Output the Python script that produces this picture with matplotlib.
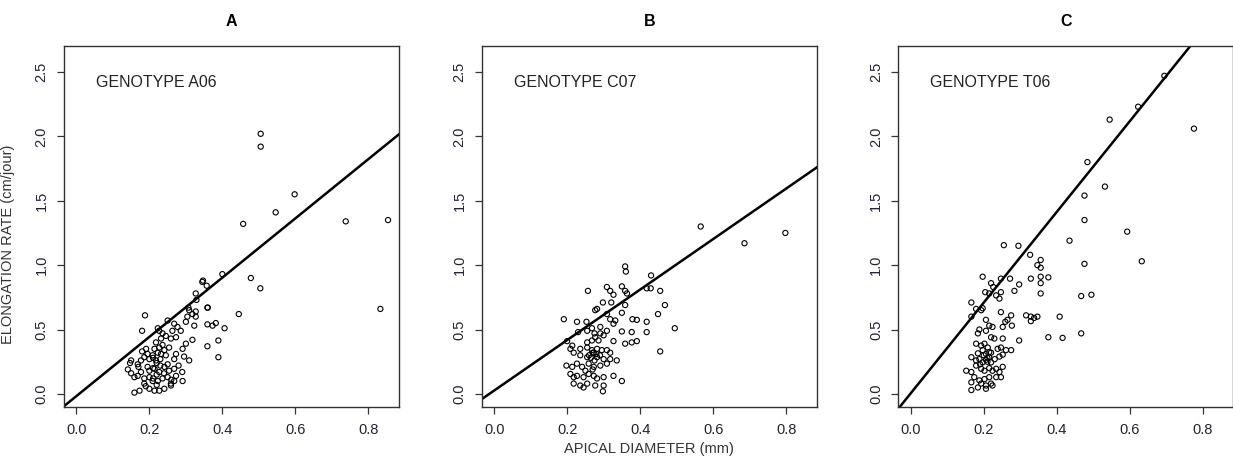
import matplotlib
matplotlib.use("Agg")
import matplotlib.pyplot as plt

plt.rcParams['font.family'] = ['Liberation Sans', 'DejaVu Sans']

panel_titles = ['A', 'B', 'C']
genotypes = ['GENOTYPE A06', 'GENOTYPE C07', 'GENOTYPE T06']
x_ticks = [0.0, 0.2, 0.4, 0.6, 0.8]
y_ticks = [0.0, 0.5, 1.0, 1.5, 2.0, 2.5]

# regression lines (intercept, slope)
intercepts = [-0.017, 0.026, 0.005]
slopes = [2.30, 1.96, 3.52]

# genotype A06
xa = [0.505, 0.505, 0.598, 0.546, 0.457, 0.738, 0.854, 0.833, 0.504, 0.478,
      0.347, 0.357, 0.40, 0.327, 0.329, 0.36, 0.307, 0.345, 0.188, 0.359,
      0.445, 0.309, 0.318, 0.327, 0.304, 0.327, 0.25, 0.30, 0.323, 0.359,
      0.373, 0.382, 0.406, 0.18, 0.268, 0.277, 0.286, 0.263, 0.223, 0.227,
      0.236, 0.245, 0.259, 0.273, 0.232, 0.318, 0.30, 0.359, 0.389, 0.389,
      0.291, 0.273, 0.268, 0.295, 0.309, 0.218, 0.227, 0.236, 0.214, 0.223,
      0.232, 0.241, 0.254, 0.245, 0.209, 0.218, 0.191, 0.195, 0.20, 0.186,
      0.147, 0.168, 0.177, 0.195, 0.141, 0.15, 0.159, 0.168, 0.177, 0.186,
      0.20, 0.214, 0.227, 0.241, 0.254, 0.268, 0.273, 0.25, 0.236, 0.223,
      0.209, 0.20, 0.159, 0.173, 0.20, 0.214, 0.227, 0.241, 0.186, 0.259,
      0.268, 0.291, 0.259, 0.15, 0.18, 0.21, 0.22, 0.23, 0.21, 0.22,
      0.23, 0.24, 0.21, 0.22, 0.25, 0.26, 0.28, 0.29, 0.17, 0.19]
ya = [2.02, 1.92, 1.55, 1.41, 1.32, 1.34, 1.35, 0.66, 0.82, 0.90,
      0.88, 0.84, 0.93, 0.78, 0.73, 0.67, 0.67, 0.87, 0.61, 0.67,
      0.62, 0.65, 0.62, 0.64, 0.60, 0.60, 0.57, 0.56, 0.53, 0.54,
      0.53, 0.55, 0.51, 0.49, 0.545, 0.52, 0.49, 0.49, 0.51, 0.49,
      0.47, 0.45, 0.43, 0.44, 0.43, 0.42, 0.39, 0.37, 0.415, 0.285,
      0.35, 0.31, 0.27, 0.29, 0.26, 0.40, 0.36, 0.38, 0.35, 0.32,
      0.31, 0.34, 0.36, 0.30, 0.30, 0.26, 0.35, 0.31, 0.27, 0.285,
      0.24, 0.23, 0.26, 0.21, 0.19, 0.16, 0.13, 0.14, 0.17, 0.12,
      0.18, 0.195, 0.17, 0.21, 0.18, 0.195, 0.14, 0.13, 0.12, 0.10,
      0.10, 0.13, 0.01, 0.025, 0.04, 0.025, 0.025, 0.04, 0.08, 0.08,
      0.10, 0.10, 0.065, 0.26, 0.33, 0.28, 0.24, 0.22, 0.20, 0.15,
      0.27, 0.16, 0.12, 0.07, 0.23, 0.11, 0.22, 0.17, 0.21, 0.06]

# genotype C07
xb = [0.566, 0.686, 0.798, 0.359, 0.361, 0.43, 0.309, 0.318, 0.327, 0.35,
      0.359, 0.364, 0.418, 0.429, 0.455, 0.257, 0.468, 0.298, 0.321, 0.277,
      0.282, 0.35, 0.359, 0.449, 0.309, 0.318, 0.327, 0.332, 0.191, 0.227,
      0.253, 0.23, 0.255, 0.379, 0.391, 0.418, 0.418, 0.495, 0.291, 0.268,
      0.275, 0.291, 0.35, 0.377, 0.309, 0.277, 0.286, 0.30, 0.268, 0.255,
      0.359, 0.377, 0.391, 0.327, 0.20, 0.214, 0.209, 0.218, 0.236, 0.255,
      0.268, 0.282, 0.295, 0.309, 0.318, 0.455, 0.236, 0.255, 0.273, 0.282,
      0.30, 0.318, 0.336, 0.198, 0.214, 0.227, 0.241, 0.259, 0.273, 0.291,
      0.309, 0.209, 0.218, 0.227, 0.245, 0.259, 0.273, 0.282, 0.30, 0.327,
      0.35, 0.218, 0.236, 0.255, 0.277, 0.30, 0.298, 0.245, 0.26, 0.27,
      0.28, 0.265, 0.275, 0.29, 0.25, 0.27]
yb = [1.30, 1.17, 1.25, 0.99, 0.95, 0.92, 0.83, 0.80, 0.77, 0.835,
      0.80, 0.78, 0.82, 0.82, 0.80, 0.80, 0.69, 0.71, 0.71, 0.65,
      0.66, 0.63, 0.69, 0.62, 0.62, 0.58, 0.545, 0.57, 0.58, 0.56,
      0.56, 0.48, 0.49, 0.58, 0.575, 0.56, 0.48, 0.51, 0.52, 0.51,
      0.47, 0.47, 0.485, 0.48, 0.49, 0.44, 0.415, 0.455, 0.415, 0.40,
      0.39, 0.40, 0.41, 0.41, 0.41, 0.375, 0.35, 0.32, 0.35, 0.36,
      0.34, 0.35, 0.34, 0.34, 0.32, 0.33, 0.30, 0.285, 0.32, 0.285,
      0.27, 0.27, 0.26, 0.22, 0.21, 0.235, 0.21, 0.235, 0.21, 0.22,
      0.235, 0.155, 0.13, 0.14, 0.13, 0.155, 0.14, 0.12, 0.13, 0.14,
      0.10, 0.08, 0.065, 0.08, 0.065, 0.065, 0.02, 0.05, 0.30, 0.32,
      0.31, 0.28, 0.26, 0.30, 0.18, 0.19]

# genotype T06
xc = [0.776, 0.545, 0.623, 0.695, 0.484, 0.532, 0.476, 0.476, 0.593, 0.435,
      0.255, 0.295, 0.633, 0.476, 0.327, 0.356, 0.347, 0.356, 0.197, 0.247,
      0.272, 0.329, 0.356, 0.377, 0.297, 0.356, 0.284, 0.22, 0.226, 0.204,
      0.215, 0.234, 0.247, 0.243, 0.356, 0.467, 0.495, 0.166, 0.179, 0.193,
      0.197, 0.247, 0.275, 0.265, 0.166, 0.206, 0.316, 0.329, 0.338, 0.347,
      0.329, 0.408, 0.259, 0.277, 0.252, 0.215, 0.224, 0.206, 0.188, 0.184,
      0.467, 0.416, 0.377, 0.297, 0.22, 0.229, 0.252, 0.179, 0.193, 0.202,
      0.211, 0.197, 0.184, 0.206, 0.215, 0.238, 0.247, 0.261, 0.275, 0.252,
      0.243, 0.166, 0.179, 0.188, 0.197, 0.206, 0.215, 0.22, 0.179, 0.193,
      0.202, 0.215, 0.224, 0.152, 0.166, 0.234, 0.243, 0.252, 0.174, 0.188,
      0.202, 0.215, 0.234, 0.247, 0.166, 0.193, 0.206, 0.22, 0.184, 0.206,
      0.224, 0.166, 0.21, 0.20, 0.22, 0.19, 0.21, 0.23]
yc = [2.06, 2.13, 2.23, 2.47, 1.80, 1.61, 1.54, 1.35, 1.26, 1.19,
      1.155, 1.15, 1.03, 1.01, 1.08, 1.04, 1.0, 0.98, 0.91, 0.895,
      0.895, 0.895, 0.91, 0.905, 0.85, 0.86, 0.80, 0.86, 0.83, 0.79,
      0.78, 0.765, 0.79, 0.74, 0.78, 0.76, 0.77, 0.71, 0.66, 0.65,
      0.665, 0.635, 0.61, 0.575, 0.60, 0.575, 0.61, 0.60, 0.59, 0.60,
      0.565, 0.60, 0.56, 0.53, 0.52, 0.53, 0.52, 0.49, 0.50, 0.47,
      0.47, 0.435, 0.44, 0.415, 0.44, 0.43, 0.43, 0.39, 0.375, 0.39,
      0.36, 0.34, 0.315, 0.31, 0.325, 0.35, 0.36, 0.34, 0.34, 0.305,
      0.29, 0.285, 0.26, 0.27, 0.245, 0.265, 0.285, 0.245, 0.22, 0.195,
      0.18, 0.20, 0.18, 0.18, 0.17, 0.195, 0.17, 0.21, 0.13, 0.105,
      0.115, 0.13, 0.13, 0.13, 0.09, 0.08, 0.065, 0.08, 0.05, 0.04,
      0.065, 0.03, 0.28, 0.30, 0.32, 0.23, 0.25, 0.27]

xs = [xa, xb, xc]
ys = [ya, yb, yc]

fig = plt.figure(figsize=(12.33, 4.62), dpi=100)
lefts = [0.0519, 0.3907, 0.7286]
axes = [fig.add_axes([l, 0.1184, 0.2717, 0.7827]) for l in lefts]

for i, ax in enumerate(axes):
    ax.scatter(xs[i], ys[i], s=14, facecolors='none', edgecolors='black',
               linewidths=0.8, zorder=3)
    ax.axline((0, intercepts[i]), slope=slopes[i], color='black', lw=1.8, zorder=2)
    ax.set_xlim(-0.034, 0.884)
    ax.set_ylim(-0.104, 2.704)
    ax.set_xticks(x_ticks)
    ax.set_yticks(y_ticks)
    ax.set_xticklabels([f'{v:.1f}' for v in x_ticks])
    ax.set_yticklabels([f'{v:.1f}' for v in y_ticks], rotation=90, va='center')
    ax.tick_params(direction='out', length=5, width=0.9, labelsize=10.5,
                   colors='#333333', labelcolor='#222233', pad=6)
    for sp in ax.spines.values():
        sp.set_color('#333333')
        sp.set_linewidth(1.0)
    ax.set_title(panel_titles[i], fontsize=11.5, fontweight='bold', pad=14)
    ax.text(0.054, 2.42, genotypes[i], fontsize=11.5, color='#222222', va='center')

axes[0].set_ylabel('ELONGATION RATE (cm/jour)', fontsize=10.5, color='#333333')
axes[0].yaxis.set_label_coords(-0.145, 0.45)
axes[1].set_xlabel('APICAL DIAMETER (mm)', fontsize=10.5, color='#333333', labelpad=4)

fig.savefig('out.png', dpi=100)
